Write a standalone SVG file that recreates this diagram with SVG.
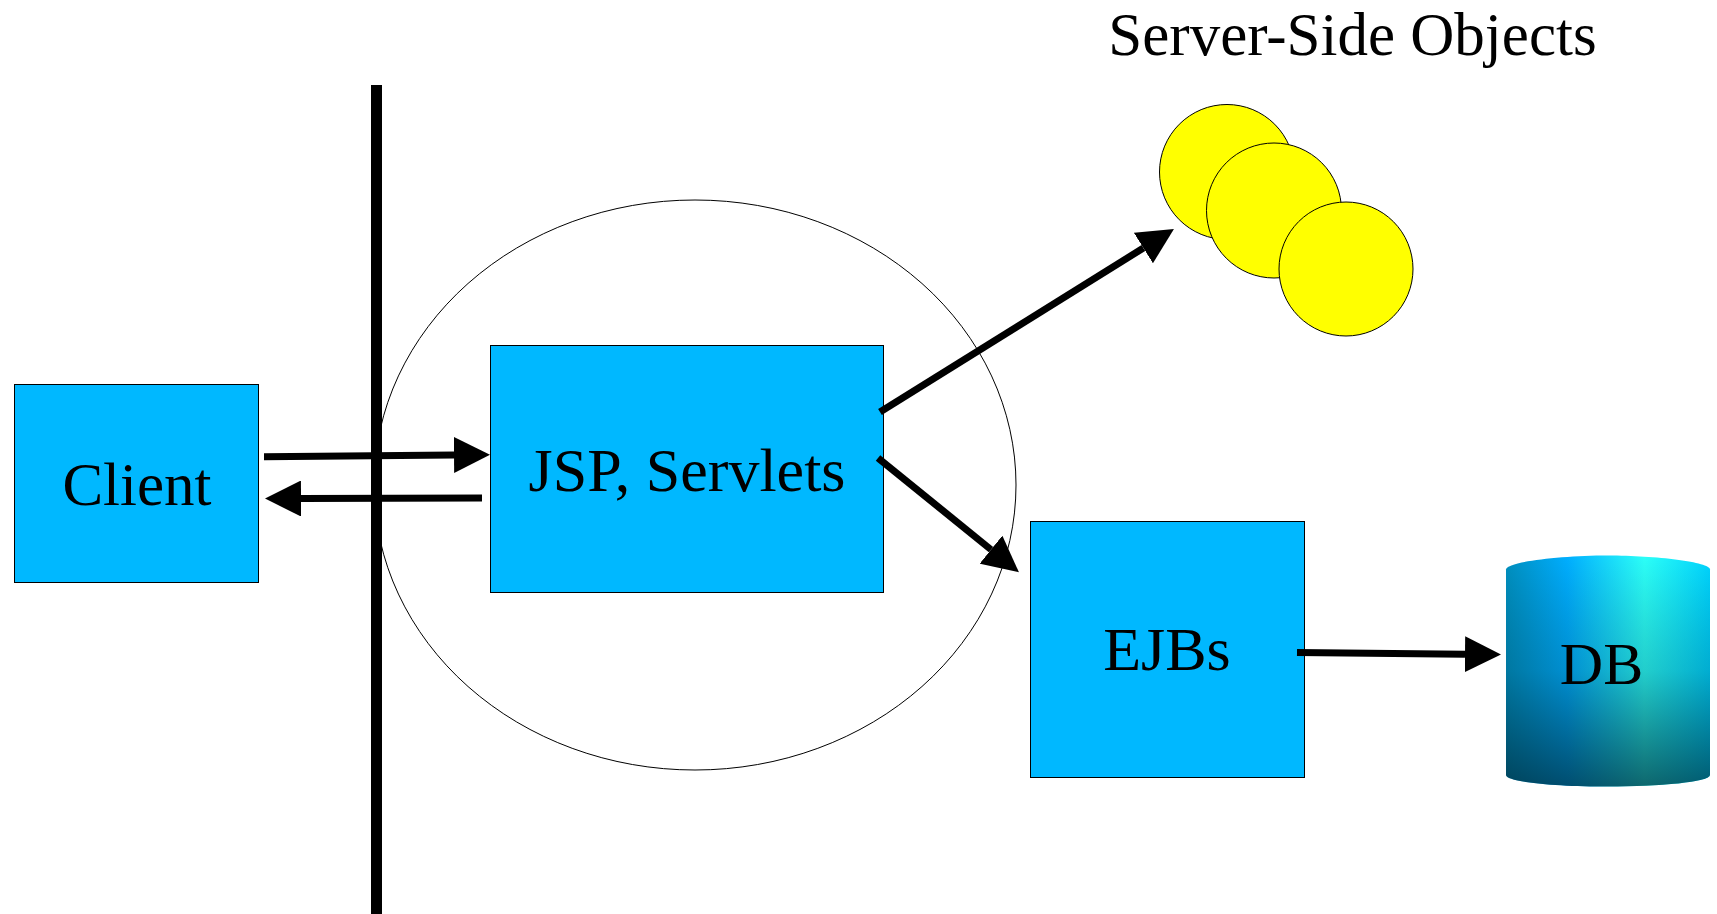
<svg xmlns="http://www.w3.org/2000/svg" width="1717" height="914" viewBox="0 0 1717 914">
<style>
text{font-family:"Liberation Serif","Times New Roman",serif;font-size:61px;fill:#000;text-anchor:middle}
.box{fill:#00b8ff;stroke:#000;stroke-width:1}
.ball{fill:#ff0;stroke:#000;stroke-width:1}
.conn{fill:none;stroke:#000;stroke-width:7;marker-end:url(#head)}
</style>
<defs>
<marker id="head" markerUnits="userSpaceOnUse" viewBox="0 -18 36 36" markerWidth="36" markerHeight="36" refX="0" refY="0" orient="auto"><path d="M0-18L36 0L0 18z" fill="#000"/></marker>
<linearGradient id="dbH" x1="0" y1="0" x2="1" y2="0">
<stop offset="0" stop-color="#0090c0"/><stop offset=".3" stop-color="#00aeff"/><stop offset=".68" stop-color="#2cfff8"/><stop offset="1" stop-color="#00d4ff"/>
</linearGradient>
<linearGradient id="dbV" x1="0" y1="0" x2="0" y2="1">
<stop offset="0" stop-color="#000" stop-opacity="0"/><stop offset=".5" stop-color="#002030" stop-opacity=".22"/><stop offset="1" stop-color="#00202c" stop-opacity=".68"/>
</linearGradient>
</defs>
<g id="boundary-ellipse"><ellipse cx="695" cy="485" rx="321" ry="285" fill="none" stroke="#000" stroke-width="1"/></g>
<g id="firewall"><rect x="371" y="85" width="11" height="829" fill="#000"/></g>
<g id="client"><rect class="box" x="14.5" y="384.5" width="244" height="198"/><text x="137" y="505">Client</text></g>
<g id="jsp-servlets"><rect class="box" x="490.5" y="345.5" width="393" height="247"/><text x="687" y="490.5" style="font-size:62px">JSP, Servlets</text></g>
<g id="ejbs"><rect class="box" x="1030.5" y="521.5" width="274" height="256"/><text x="1167" y="670" style="font-size:62px">EJBs</text></g>
<g id="server-side-objects">
<circle class="ball" cx="1227" cy="172" r="67.5"/><circle class="ball" cx="1274" cy="210.5" r="67.5"/><circle class="ball" cx="1346" cy="269" r="67"/>
<text x="1352.5" y="55">Server-Side Objects</text>
</g>
<g id="db">
<path d="M1506 569.5C1506 562 1560 555.5 1608 555.5S1710 562 1710 569.5V775C1710 782 1660 786.5 1608 786.5S1506 782 1506 775z" fill="url(#dbH)"/>
<path d="M1506 569.5C1506 562 1560 555.5 1608 555.5S1710 562 1710 569.5V775C1710 782 1660 786.5 1608 786.5S1506 782 1506 775z" fill="url(#dbV)"/>
<text x="1601.5" y="684" style="font-size:60px">DB</text>
</g>
<g id="connectors">
<line class="conn" x1="264" y1="456.7" x2="454" y2="455"/>
<line class="conn" x1="482" y1="498" x2="301" y2="498.5"/>
<line class="conn" x1="880" y1="412" x2="1143.4" y2="248"/>
<line class="conn" x1="878" y1="458" x2="991" y2="549.6"/>
<line class="conn" x1="1297" y1="652.5" x2="1465" y2="654.2"/>
</g>
</svg>
